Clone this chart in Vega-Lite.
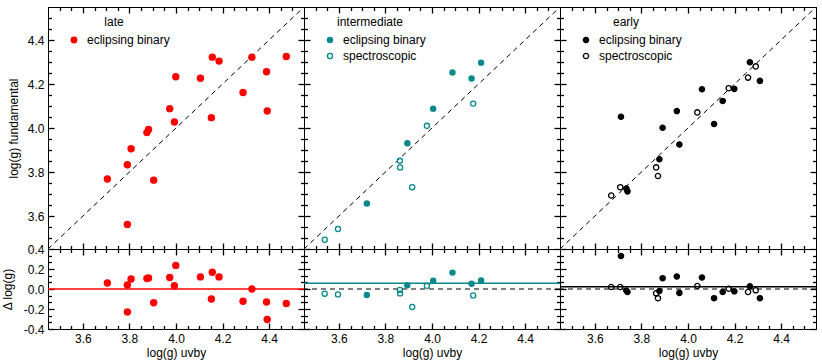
{
  "$schema": "https://vega.github.io/schema/vega-lite/v6.json",
  "padding": {"top": 5, "left": 0, "right": 6, "bottom": 2},
  "background": "white",
  "config": {
    "font": "Liberation Sans",
    "view": {"stroke": "black", "strokeWidth": 1},
    "axis": {"grid": false, "domainColor": "black", "domainWidth": 1, "ticks": true, "tickColor": "black", "tickWidth": 1.3, "tickSize": -6, "labelPadding": 10, "labelColor": "black", "titleColor": "black", "labelFontSize": 12, "titleFontSize": 12, "titleFontWeight": "normal", "labelFont": "Liberation Sans", "titleFont": "Liberation Sans"},
    "legend": {"labelFont": "Liberation Sans", "titleFont": "Liberation Sans"}
  },
  "datasets": {
    "diag": [{"v": 3.45}, {"v": 4.55}],
    "late": [
      {"u": 3.705, "f": 3.768, "d": 0.06, "t": "eclipsing binary"},
      {"u": 3.791, "f": 3.833, "d": 0.04, "t": "eclipsing binary"},
      {"u": 3.791, "f": 3.561, "d": -0.23, "t": "eclipsing binary"},
      {"u": 3.807, "f": 3.906, "d": 0.10, "t": "eclipsing binary"},
      {"u": 3.875, "f": 3.979, "d": 0.105, "t": "eclipsing binary"},
      {"u": 3.882, "f": 3.993, "d": 0.111, "t": "eclipsing binary"},
      {"u": 3.904, "f": 3.763, "d": -0.138, "t": "eclipsing binary"},
      {"u": 3.973, "f": 4.088, "d": 0.115, "t": "eclipsing binary"},
      {"u": 3.993, "f": 4.027, "d": 0.033, "t": "eclipsing binary"},
      {"u": 3.999, "f": 4.233, "d": 0.236, "t": "eclipsing binary"},
      {"u": 4.105, "f": 4.226, "d": 0.121, "t": "eclipsing binary"},
      {"u": 4.152, "f": 4.047, "d": -0.10, "t": "eclipsing binary"},
      {"u": 4.156, "f": 4.322, "d": 0.167, "t": "eclipsing binary"},
      {"u": 4.185, "f": 4.304, "d": 0.121, "t": "eclipsing binary"},
      {"u": 4.288, "f": 4.161, "d": -0.123, "t": "eclipsing binary"},
      {"u": 4.326, "f": 4.322, "d": 0.0, "t": "eclipsing binary"},
      {"u": 4.389, "f": 4.256, "d": -0.13, "t": "eclipsing binary"},
      {"u": 4.392, "f": 4.077, "d": -0.305, "t": "eclipsing binary"},
      {"u": 4.474, "f": 4.325, "d": -0.145, "t": "eclipsing binary"}
    ],
    "inter": [
      {"u": 3.72, "f": 3.657, "d": -0.06, "t": "eclipsing binary"},
      {"u": 3.894, "f": 3.931, "d": 0.038, "t": "eclipsing binary"},
      {"u": 4.005, "f": 4.088, "d": 0.083, "t": "eclipsing binary"},
      {"u": 4.088, "f": 4.252, "d": 0.164, "t": "eclipsing binary"},
      {"u": 4.17, "f": 4.225, "d": 0.053, "t": "eclipsing binary"},
      {"u": 4.211, "f": 4.297, "d": 0.086, "t": "eclipsing binary"},
      {"u": 3.539, "f": 3.492, "d": -0.047, "t": "spectroscopic"},
      {"u": 3.596, "f": 3.541, "d": -0.054, "t": "spectroscopic"},
      {"u": 3.862, "f": 3.851, "d": -0.009, "t": "spectroscopic"},
      {"u": 3.863, "f": 3.821, "d": -0.044, "t": "spectroscopic"},
      {"u": 3.915, "f": 3.731, "d": -0.18, "t": "spectroscopic"},
      {"u": 3.978, "f": 4.01, "d": 0.032, "t": "spectroscopic"},
      {"u": 4.177, "f": 4.111, "d": -0.064, "t": "spectroscopic"}
    ],
    "early": [
      {"u": 3.712, "f": 4.051, "d": 0.33, "t": "eclipsing binary"},
      {"u": 3.735, "f": 3.725, "d": -0.015, "t": "eclipsing binary"},
      {"u": 3.74, "f": 3.712, "d": -0.03, "t": "eclipsing binary"},
      {"u": 3.877, "f": 3.858, "d": -0.02, "t": "eclipsing binary"},
      {"u": 3.891, "f": 4.001, "d": 0.108, "t": "eclipsing binary"},
      {"u": 3.952, "f": 4.077, "d": 0.125, "t": "eclipsing binary"},
      {"u": 3.963, "f": 3.925, "d": -0.039, "t": "eclipsing binary"},
      {"u": 4.06, "f": 4.176, "d": 0.115, "t": "eclipsing binary"},
      {"u": 4.112, "f": 4.018, "d": -0.092, "t": "eclipsing binary"},
      {"u": 4.149, "f": 4.123, "d": -0.03, "t": "eclipsing binary"},
      {"u": 4.199, "f": 4.178, "d": -0.023, "t": "eclipsing binary"},
      {"u": 4.266, "f": 4.299, "d": 0.026, "t": "eclipsing binary"},
      {"u": 4.309, "f": 4.214, "d": -0.092, "t": "eclipsing binary"},
      {"u": 3.67, "f": 3.693, "d": 0.02, "t": "spectroscopic"},
      {"u": 3.709, "f": 3.731, "d": 0.02, "t": "spectroscopic"},
      {"u": 3.863, "f": 3.821, "d": -0.043, "t": "spectroscopic"},
      {"u": 3.871, "f": 3.782, "d": -0.092, "t": "spectroscopic"},
      {"u": 4.04, "f": 4.071, "d": 0.03, "t": "spectroscopic"},
      {"u": 4.175, "f": 4.181, "d": 0.003, "t": "spectroscopic"},
      {"u": 4.258, "f": 4.229, "d": -0.03, "t": "spectroscopic"},
      {"u": 4.291, "f": 4.28, "d": -0.013, "t": "spectroscopic"}
    ],
    "lateLines": [{"m": 0.0}],
    "interLines": [{"m": 0.057}],
    "earlyLines": [{"m": 0.022}],
    "zero": [{"m": 0.0}]
  },
  "columns": 3,
  "spacing": 0,
  "bounds": "flush",
  "resolve": {"scale": {"x": "independent", "y": "independent", "fill": "independent"}, "legend": {"fill": "independent"}},
  "concat": [
    {
      "width": 256, "height": 242,
      "layer": [
        {"data": {"name": "diag"}, "mark": {"type": "line", "color": "black", "strokeDash": [5, 4], "strokeWidth": 1, "clip": true},
         "encoding": {
           "x": {"field": "v", "type": "quantitative", "scale": {"domain": [3.45, 4.55], "nice": false, "zero": false}, "axis": {"orient": "bottom", "title": null, "labels": false, "values": [3.6, 3.8, 4.0, 4.2, 4.4]}},
           "y": {"field": "v", "type": "quantitative", "scale": {"domain": [3.45, 4.55], "nice": false, "zero": false}, "axis": {"orient": "left", "title": "log(g) fundamental", "titlePadding": 7, "values": [3.6, 3.8, 4.0, 4.2, 4.4], "format": ".1f"}}
         }},
        {"data": {"name": "late"}, "mark": {"type": "point", "opacity": 0},
         "encoding": {
           "x": {"field": "u", "type": "quantitative", "scale": {"domain": [3.45, 4.55], "nice": false, "zero": false}, "axis": {"orient": "top", "title": null, "labels": false, "values": [3.6, 3.8, 4.0, 4.2, 4.4]}},
           "y": {"field": "f", "type": "quantitative", "scale": {"domain": [3.45, 4.55], "nice": false, "zero": false}, "axis": {"orient": "right", "title": null, "labels": false, "values": [3.6, 3.8, 4.0, 4.2, 4.4]}}
         }},
        {"data": {"name": "late"}, "mark": {"type": "point", "opacity": 0},
         "encoding": {
           "x": {"field": "u", "type": "quantitative", "scale": {"domain": [3.45, 4.55], "nice": false, "zero": false}, "axis": {"orient": "bottom", "title": null, "labels": false, "domain": false, "tickSize": -3.5, "values": [3.5,3.55,3.65,3.7,3.75,3.85,3.9,3.95,4.05,4.1,4.15,4.25,4.3,4.35,4.45,4.5]}},
           "y": {"field": "f", "type": "quantitative", "scale": {"domain": [3.45, 4.55], "nice": false, "zero": false}, "axis": {"orient": "left", "title": null, "labels": false, "domain": false, "tickSize": -3.5, "values": [3.5,3.55,3.65,3.7,3.75,3.85,3.9,3.95,4.05,4.1,4.15,4.25,4.3,4.35,4.45,4.5]}}
         }},
        {"data": {"name": "late"}, "mark": {"type": "point", "opacity": 0},
         "encoding": {
           "x": {"field": "u", "type": "quantitative", "scale": {"domain": [3.45, 4.55], "nice": false, "zero": false}, "axis": {"orient": "top", "title": null, "labels": false, "domain": false, "tickSize": -3.5, "values": [3.5,3.55,3.65,3.7,3.75,3.85,3.9,3.95,4.05,4.1,4.15,4.25,4.3,4.35,4.45,4.5]}},
           "y": {"field": "f", "type": "quantitative", "scale": {"domain": [3.45, 4.55], "nice": false, "zero": false}, "axis": {"orient": "right", "title": null, "labels": false, "domain": false, "tickSize": -3.5, "values": [3.5,3.55,3.65,3.7,3.75,3.85,3.9,3.95,4.05,4.1,4.15,4.25,4.3,4.35,4.45,4.5]}}
         }},
        {"data": {"name": "late"}, "mark": {"type": "point", "shape": "circle", "filled": true, "size": 55, "opacity": 1, "clip": true},
         "encoding": {
           "x": {"field": "u", "type": "quantitative", "axis": null},
           "y": {"field": "f", "type": "quantitative", "axis": null},
           "fill": {"field": "t", "type": "nominal", "scale": {"domain": ["eclipsing binary"], "range": ["#ff0000"]},
             "legend": {"title": "late", "orient": "top-left", "offset": 10, "padding": 0, "symbolOffset": 10, "titleAnchor": "middle", "titleFontWeight": "normal", "titleFontSize": 12, "titleColor": "black", "labelFontSize": 12, "labelColor": "black", "symbolType": "circle", "symbolSize": 48, "symbolStrokeWidth": 0, "labelOffset": 7, "rowPadding": 4, "titlePadding": 5}}
         }}
      ],
      "resolve": {"axis": {"x": "independent", "y": "independent"}}
    },
    {
      "width": 256, "height": 242,
      "layer": [
        {"data": {"name": "diag"}, "mark": {"type": "line", "color": "black", "strokeDash": [5, 4], "strokeWidth": 1, "clip": true},
         "encoding": {
           "x": {"field": "v", "type": "quantitative", "scale": {"domain": [3.45, 4.55], "nice": false, "zero": false}, "axis": {"orient": "bottom", "title": null, "labels": false, "values": [3.6, 3.8, 4.0, 4.2, 4.4]}},
           "y": {"field": "v", "type": "quantitative", "scale": {"domain": [3.45, 4.55], "nice": false, "zero": false}, "axis": {"orient": "left", "title": null, "labels": false, "values": [3.6, 3.8, 4.0, 4.2, 4.4]}}
         }},
        {"data": {"name": "inter"}, "mark": {"type": "point", "opacity": 0},
         "encoding": {
           "x": {"field": "u", "type": "quantitative", "scale": {"domain": [3.45, 4.55], "nice": false, "zero": false}, "axis": {"orient": "top", "title": null, "labels": false, "values": [3.6, 3.8, 4.0, 4.2, 4.4]}},
           "y": {"field": "f", "type": "quantitative", "scale": {"domain": [3.45, 4.55], "nice": false, "zero": false}, "axis": {"orient": "right", "title": null, "labels": false, "values": [3.6, 3.8, 4.0, 4.2, 4.4]}}
         }},
        {"data": {"name": "inter"}, "mark": {"type": "point", "opacity": 0},
         "encoding": {
           "x": {"field": "u", "type": "quantitative", "scale": {"domain": [3.45, 4.55], "nice": false, "zero": false}, "axis": {"orient": "bottom", "title": null, "labels": false, "domain": false, "tickSize": -3.5, "values": [3.5,3.55,3.65,3.7,3.75,3.85,3.9,3.95,4.05,4.1,4.15,4.25,4.3,4.35,4.45,4.5]}},
           "y": {"field": "f", "type": "quantitative", "scale": {"domain": [3.45, 4.55], "nice": false, "zero": false}, "axis": {"orient": "left", "title": null, "labels": false, "domain": false, "tickSize": -3.5, "values": [3.5,3.55,3.65,3.7,3.75,3.85,3.9,3.95,4.05,4.1,4.15,4.25,4.3,4.35,4.45,4.5]}}
         }},
        {"data": {"name": "inter"}, "mark": {"type": "point", "opacity": 0},
         "encoding": {
           "x": {"field": "u", "type": "quantitative", "scale": {"domain": [3.45, 4.55], "nice": false, "zero": false}, "axis": {"orient": "top", "title": null, "labels": false, "domain": false, "tickSize": -3.5, "values": [3.5,3.55,3.65,3.7,3.75,3.85,3.9,3.95,4.05,4.1,4.15,4.25,4.3,4.35,4.45,4.5]}},
           "y": {"field": "f", "type": "quantitative", "scale": {"domain": [3.45, 4.55], "nice": false, "zero": false}, "axis": {"orient": "right", "title": null, "labels": false, "domain": false, "tickSize": -3.5, "values": [3.5,3.55,3.65,3.7,3.75,3.85,3.9,3.95,4.05,4.1,4.15,4.25,4.3,4.35,4.45,4.5]}}
         }},
        {"data": {"name": "inter"}, "mark": {"type": "point", "shape": "circle", "filled": true, "size": 26, "stroke": "#06898a", "strokeWidth": 1.3, "opacity": 1, "clip": true},
         "encoding": {
           "x": {"field": "u", "type": "quantitative", "axis": null},
           "y": {"field": "f", "type": "quantitative", "axis": null},
           "fill": {"field": "t", "type": "nominal", "scale": {"domain": ["eclipsing binary", "spectroscopic"], "range": ["#06898a", "transparent"]},
             "legend": {"title": "intermediate", "orient": "top-left", "offset": 10, "padding": 0, "symbolOffset": 10, "titleAnchor": "middle", "titleFontWeight": "normal", "titleFontSize": 12, "titleColor": "black", "labelFontSize": 12, "labelColor": "black", "symbolType": "circle", "symbolSize": 26, "symbolStrokeColor": "#06898a", "symbolStrokeWidth": 1.3, "labelOffset": 7, "rowPadding": 4, "titlePadding": 5}}
         }}
      ],
      "resolve": {"axis": {"x": "independent", "y": "independent"}}
    },
    {
      "width": 256, "height": 242,
      "layer": [
        {"data": {"name": "diag"}, "mark": {"type": "line", "color": "black", "strokeDash": [5, 4], "strokeWidth": 1, "clip": true},
         "encoding": {
           "x": {"field": "v", "type": "quantitative", "scale": {"domain": [3.45, 4.55], "nice": false, "zero": false}, "axis": {"orient": "bottom", "title": null, "labels": false, "values": [3.6, 3.8, 4.0, 4.2, 4.4]}},
           "y": {"field": "v", "type": "quantitative", "scale": {"domain": [3.45, 4.55], "nice": false, "zero": false}, "axis": {"orient": "left", "title": null, "labels": false, "values": [3.6, 3.8, 4.0, 4.2, 4.4]}}
         }},
        {"data": {"name": "early"}, "mark": {"type": "point", "opacity": 0},
         "encoding": {
           "x": {"field": "u", "type": "quantitative", "scale": {"domain": [3.45, 4.55], "nice": false, "zero": false}, "axis": {"orient": "top", "title": null, "labels": false, "values": [3.6, 3.8, 4.0, 4.2, 4.4]}},
           "y": {"field": "f", "type": "quantitative", "scale": {"domain": [3.45, 4.55], "nice": false, "zero": false}, "axis": {"orient": "right", "title": null, "labels": false, "values": [3.6, 3.8, 4.0, 4.2, 4.4]}}
         }},
        {"data": {"name": "early"}, "mark": {"type": "point", "opacity": 0},
         "encoding": {
           "x": {"field": "u", "type": "quantitative", "scale": {"domain": [3.45, 4.55], "nice": false, "zero": false}, "axis": {"orient": "bottom", "title": null, "labels": false, "domain": false, "tickSize": -3.5, "values": [3.5,3.55,3.65,3.7,3.75,3.85,3.9,3.95,4.05,4.1,4.15,4.25,4.3,4.35,4.45,4.5]}},
           "y": {"field": "f", "type": "quantitative", "scale": {"domain": [3.45, 4.55], "nice": false, "zero": false}, "axis": {"orient": "left", "title": null, "labels": false, "domain": false, "tickSize": -3.5, "values": [3.5,3.55,3.65,3.7,3.75,3.85,3.9,3.95,4.05,4.1,4.15,4.25,4.3,4.35,4.45,4.5]}}
         }},
        {"data": {"name": "early"}, "mark": {"type": "point", "opacity": 0},
         "encoding": {
           "x": {"field": "u", "type": "quantitative", "scale": {"domain": [3.45, 4.55], "nice": false, "zero": false}, "axis": {"orient": "top", "title": null, "labels": false, "domain": false, "tickSize": -3.5, "values": [3.5,3.55,3.65,3.7,3.75,3.85,3.9,3.95,4.05,4.1,4.15,4.25,4.3,4.35,4.45,4.5]}},
           "y": {"field": "f", "type": "quantitative", "scale": {"domain": [3.45, 4.55], "nice": false, "zero": false}, "axis": {"orient": "right", "title": null, "labels": false, "domain": false, "tickSize": -3.5, "values": [3.5,3.55,3.65,3.7,3.75,3.85,3.9,3.95,4.05,4.1,4.15,4.25,4.3,4.35,4.45,4.5]}}
         }},
        {"data": {"name": "early"}, "mark": {"type": "point", "shape": "circle", "filled": true, "size": 28, "stroke": "black", "strokeWidth": 1.3, "opacity": 1, "clip": true},
         "encoding": {
           "x": {"field": "u", "type": "quantitative", "axis": null},
           "y": {"field": "f", "type": "quantitative", "axis": null},
           "fill": {"field": "t", "type": "nominal", "scale": {"domain": ["eclipsing binary", "spectroscopic"], "range": ["black", "transparent"]},
             "legend": {"title": "early", "orient": "top-left", "offset": 10, "padding": 0, "symbolOffset": 10, "titleAnchor": "middle", "titleFontWeight": "normal", "titleFontSize": 12, "titleColor": "black", "labelFontSize": 12, "labelColor": "black", "symbolType": "circle", "symbolSize": 28, "symbolStrokeColor": "black", "symbolStrokeWidth": 1.3, "labelOffset": 7, "rowPadding": 4, "titlePadding": 5}}
         }}
      ],
      "resolve": {"axis": {"x": "independent", "y": "independent"}}
    },
    {
      "width": 256, "height": 80,
      "layer": [
        {"data": {"name": "lateLines"}, "mark": {"type": "rule", "color": "#ff0000", "strokeWidth": 1.5},
         "encoding": {"y": {"field": "m", "type": "quantitative", "scale": {"domain": [-0.4, 0.4], "nice": false, "zero": false}, "axis": null}}},
        {"data": {"name": "late"}, "mark": {"type": "point", "opacity": 0},
         "encoding": {
           "x": {"field": "u", "type": "quantitative", "title": "log(g) uvby", "scale": {"domain": [3.45, 4.55], "nice": false, "zero": false}, "axis": {"orient": "bottom", "titlePadding": 3, "values": [3.6, 3.8, 4.0, 4.2, 4.4], "format": ".1f"}},
           "y": {"field": "d", "type": "quantitative", "title": "Δ log(g)", "scale": {"domain": [-0.4, 0.4], "nice": false, "zero": false}, "axis": {"orient": "left", "titlePadding": 9, "values": [-0.4, -0.2, 0, 0.2, 0.4], "labelExpr": "replace(format(datum.value, '.1f'), '−', '-')"}}
         }},
        {"data": {"name": "late"}, "mark": {"type": "point", "opacity": 0},
         "encoding": {
           "x": {"field": "u", "type": "quantitative", "scale": {"domain": [3.45, 4.55], "nice": false, "zero": false}, "axis": {"orient": "top", "title": null, "labels": false, "values": [3.6, 3.8, 4.0, 4.2, 4.4]}},
           "y": {"field": "d", "type": "quantitative", "scale": {"domain": [-0.4, 0.4], "nice": false, "zero": false}, "axis": {"orient": "right", "title": null, "labels": false, "values": [-0.4, -0.2, 0, 0.2, 0.4]}}
         }},
        {"data": {"name": "late"}, "mark": {"type": "point", "opacity": 0},
         "encoding": {
           "x": {"field": "u", "type": "quantitative", "scale": {"domain": [3.45, 4.55], "nice": false, "zero": false}, "axis": {"orient": "bottom", "title": null, "labels": false, "domain": false, "tickSize": -3.5, "values": [3.5,3.55,3.65,3.7,3.75,3.85,3.9,3.95,4.05,4.1,4.15,4.25,4.3,4.35,4.45,4.5]}},
           "y": {"field": "d", "type": "quantitative", "scale": {"domain": [-0.4, 0.4], "nice": false, "zero": false}, "axis": {"orient": "left", "title": null, "labels": false, "domain": false, "tickSize": -3.5, "values": [-0.3333, -0.2667, -0.1333, -0.0667, 0.0667, 0.1333, 0.2667, 0.3333]}}
         }},
        {"data": {"name": "late"}, "mark": {"type": "point", "opacity": 0},
         "encoding": {
           "x": {"field": "u", "type": "quantitative", "scale": {"domain": [3.45, 4.55], "nice": false, "zero": false}, "axis": {"orient": "top", "title": null, "labels": false, "domain": false, "tickSize": -3.5, "values": [3.5,3.55,3.65,3.7,3.75,3.85,3.9,3.95,4.05,4.1,4.15,4.25,4.3,4.35,4.45,4.5]}},
           "y": {"field": "d", "type": "quantitative", "scale": {"domain": [-0.4, 0.4], "nice": false, "zero": false}, "axis": {"orient": "right", "title": null, "labels": false, "domain": false, "tickSize": -3.5, "values": [-0.3333, -0.2667, -0.1333, -0.0667, 0.0667, 0.1333, 0.2667, 0.3333]}}
         }},
        {"data": {"name": "late"}, "mark": {"type": "point", "shape": "circle", "filled": true, "size": 55, "opacity": 1, "clip": true},
         "encoding": {
           "x": {"field": "u", "type": "quantitative", "axis": null},
           "y": {"field": "d", "type": "quantitative", "axis": null},
           "fill": {"field": "t", "type": "nominal", "scale": {"domain": ["eclipsing binary"], "range": ["#ff0000"]}, "legend": null}
         }}
      ],
      "resolve": {"axis": {"x": "independent", "y": "independent"}}
    },
    {
      "width": 256, "height": 80,
      "layer": [
        {"data": {"name": "zero"}, "mark": {"type": "rule", "color": "black", "strokeWidth": 1, "strokeDash": [5, 4]},
         "encoding": {"y": {"field": "m", "type": "quantitative", "scale": {"domain": [-0.4, 0.4], "nice": false, "zero": false}, "axis": null}}},
        {"data": {"name": "interLines"}, "mark": {"type": "rule", "color": "#06898a", "strokeWidth": 1.5},
         "encoding": {"y": {"field": "m", "type": "quantitative", "axis": null}}},
        {"data": {"name": "inter"}, "mark": {"type": "point", "opacity": 0},
         "encoding": {
           "x": {"field": "u", "type": "quantitative", "title": "log(g) uvby", "scale": {"domain": [3.45, 4.55], "nice": false, "zero": false}, "axis": {"orient": "bottom", "titlePadding": 3, "values": [3.6, 3.8, 4.0, 4.2, 4.4], "format": ".1f"}},
           "y": {"field": "d", "type": "quantitative", "scale": {"domain": [-0.4, 0.4], "nice": false, "zero": false}, "axis": {"orient": "left", "title": null, "labels": false, "values": [-0.4, -0.2, 0, 0.2, 0.4]}}
         }},
        {"data": {"name": "inter"}, "mark": {"type": "point", "opacity": 0},
         "encoding": {
           "x": {"field": "u", "type": "quantitative", "scale": {"domain": [3.45, 4.55], "nice": false, "zero": false}, "axis": {"orient": "top", "title": null, "labels": false, "values": [3.6, 3.8, 4.0, 4.2, 4.4]}},
           "y": {"field": "d", "type": "quantitative", "scale": {"domain": [-0.4, 0.4], "nice": false, "zero": false}, "axis": {"orient": "right", "title": null, "labels": false, "values": [-0.4, -0.2, 0, 0.2, 0.4]}}
         }},
        {"data": {"name": "inter"}, "mark": {"type": "point", "opacity": 0},
         "encoding": {
           "x": {"field": "u", "type": "quantitative", "scale": {"domain": [3.45, 4.55], "nice": false, "zero": false}, "axis": {"orient": "bottom", "title": null, "labels": false, "domain": false, "tickSize": -3.5, "values": [3.5,3.55,3.65,3.7,3.75,3.85,3.9,3.95,4.05,4.1,4.15,4.25,4.3,4.35,4.45,4.5]}},
           "y": {"field": "d", "type": "quantitative", "scale": {"domain": [-0.4, 0.4], "nice": false, "zero": false}, "axis": {"orient": "left", "title": null, "labels": false, "domain": false, "tickSize": -3.5, "values": [-0.3333, -0.2667, -0.1333, -0.0667, 0.0667, 0.1333, 0.2667, 0.3333]}}
         }},
        {"data": {"name": "inter"}, "mark": {"type": "point", "opacity": 0},
         "encoding": {
           "x": {"field": "u", "type": "quantitative", "scale": {"domain": [3.45, 4.55], "nice": false, "zero": false}, "axis": {"orient": "top", "title": null, "labels": false, "domain": false, "tickSize": -3.5, "values": [3.5,3.55,3.65,3.7,3.75,3.85,3.9,3.95,4.05,4.1,4.15,4.25,4.3,4.35,4.45,4.5]}},
           "y": {"field": "d", "type": "quantitative", "scale": {"domain": [-0.4, 0.4], "nice": false, "zero": false}, "axis": {"orient": "right", "title": null, "labels": false, "domain": false, "tickSize": -3.5, "values": [-0.3333, -0.2667, -0.1333, -0.0667, 0.0667, 0.1333, 0.2667, 0.3333]}}
         }},
        {"data": {"name": "inter"}, "mark": {"type": "point", "shape": "circle", "filled": true, "size": 26, "stroke": "#06898a", "strokeWidth": 1.3, "opacity": 1, "clip": true},
         "encoding": {
           "x": {"field": "u", "type": "quantitative", "axis": null},
           "y": {"field": "d", "type": "quantitative", "axis": null},
           "fill": {"field": "t", "type": "nominal", "scale": {"domain": ["eclipsing binary", "spectroscopic"], "range": ["#06898a", "transparent"]}, "legend": null}
         }}
      ],
      "resolve": {"axis": {"x": "independent", "y": "independent"}}
    },
    {
      "width": 256, "height": 80,
      "layer": [
        {"data": {"name": "zero"}, "mark": {"type": "rule", "color": "black", "strokeWidth": 1, "strokeDash": [5, 4]},
         "encoding": {"y": {"field": "m", "type": "quantitative", "scale": {"domain": [-0.4, 0.4], "nice": false, "zero": false}, "axis": null}}},
        {"data": {"name": "earlyLines"}, "mark": {"type": "rule", "color": "black", "strokeWidth": 1.5},
         "encoding": {"y": {"field": "m", "type": "quantitative", "axis": null}}},
        {"data": {"name": "early"}, "mark": {"type": "point", "opacity": 0},
         "encoding": {
           "x": {"field": "u", "type": "quantitative", "title": "log(g) uvby", "scale": {"domain": [3.45, 4.55], "nice": false, "zero": false}, "axis": {"orient": "bottom", "titlePadding": 3, "values": [3.6, 3.8, 4.0, 4.2, 4.4], "format": ".1f"}},
           "y": {"field": "d", "type": "quantitative", "scale": {"domain": [-0.4, 0.4], "nice": false, "zero": false}, "axis": {"orient": "left", "title": null, "labels": false, "values": [-0.4, -0.2, 0, 0.2, 0.4]}}
         }},
        {"data": {"name": "early"}, "mark": {"type": "point", "opacity": 0},
         "encoding": {
           "x": {"field": "u", "type": "quantitative", "scale": {"domain": [3.45, 4.55], "nice": false, "zero": false}, "axis": {"orient": "top", "title": null, "labels": false, "values": [3.6, 3.8, 4.0, 4.2, 4.4]}},
           "y": {"field": "d", "type": "quantitative", "scale": {"domain": [-0.4, 0.4], "nice": false, "zero": false}, "axis": {"orient": "right", "title": null, "labels": false, "values": [-0.4, -0.2, 0, 0.2, 0.4]}}
         }},
        {"data": {"name": "early"}, "mark": {"type": "point", "opacity": 0},
         "encoding": {
           "x": {"field": "u", "type": "quantitative", "scale": {"domain": [3.45, 4.55], "nice": false, "zero": false}, "axis": {"orient": "bottom", "title": null, "labels": false, "domain": false, "tickSize": -3.5, "values": [3.5,3.55,3.65,3.7,3.75,3.85,3.9,3.95,4.05,4.1,4.15,4.25,4.3,4.35,4.45,4.5]}},
           "y": {"field": "d", "type": "quantitative", "scale": {"domain": [-0.4, 0.4], "nice": false, "zero": false}, "axis": {"orient": "left", "title": null, "labels": false, "domain": false, "tickSize": -3.5, "values": [-0.3333, -0.2667, -0.1333, -0.0667, 0.0667, 0.1333, 0.2667, 0.3333]}}
         }},
        {"data": {"name": "early"}, "mark": {"type": "point", "opacity": 0},
         "encoding": {
           "x": {"field": "u", "type": "quantitative", "scale": {"domain": [3.45, 4.55], "nice": false, "zero": false}, "axis": {"orient": "top", "title": null, "labels": false, "domain": false, "tickSize": -3.5, "values": [3.5,3.55,3.65,3.7,3.75,3.85,3.9,3.95,4.05,4.1,4.15,4.25,4.3,4.35,4.45,4.5]}},
           "y": {"field": "d", "type": "quantitative", "scale": {"domain": [-0.4, 0.4], "nice": false, "zero": false}, "axis": {"orient": "right", "title": null, "labels": false, "domain": false, "tickSize": -3.5, "values": [-0.3333, -0.2667, -0.1333, -0.0667, 0.0667, 0.1333, 0.2667, 0.3333]}}
         }},
        {"data": {"name": "early"}, "mark": {"type": "point", "shape": "circle", "filled": true, "size": 28, "stroke": "black", "strokeWidth": 1.3, "opacity": 1, "clip": true},
         "encoding": {
           "x": {"field": "u", "type": "quantitative", "axis": null},
           "y": {"field": "d", "type": "quantitative", "axis": null},
           "fill": {"field": "t", "type": "nominal", "scale": {"domain": ["eclipsing binary", "spectroscopic"], "range": ["black", "transparent"]}, "legend": null}
         }}
      ],
      "resolve": {"axis": {"x": "independent", "y": "independent"}}
    }
  ]
}
